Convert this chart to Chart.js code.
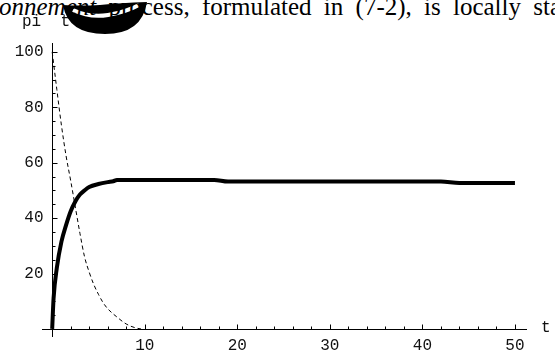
<!DOCTYPE html>
<html>
<head>
<meta charset="utf-8">
<script src="https://cdn.jsdelivr.net/npm/chart.js@4.4.0/dist/chart.umd.min.js"></script>
<style>
html, body { margin: 0; padding: 0; background: #fff; overflow: hidden; }
#wrap { position: relative; width: 555px; height: 358px; overflow: hidden; }
#cap {
    position: absolute; left: -1px; top: -6px; white-space: nowrap;
    font-family: "Liberation Serif", "Times New Roman", serif;
    font-size: 25px; line-height: 25px; word-spacing: 6px; color: #000;
}
#blob { position: absolute; left: 60px; top: 0; }
#chart { position: absolute; left: 0; top: 0; }
</style>
</head>
<body>
<div id="wrap">
    <svg id="blob" width="90" height="36" viewBox="0 0 90 36">
        <path d="M3 5 Q8 34 45 34 Q82 34 87 2 Q60 3 40 5 Q20 6 3 5 Z" fill="#000"/>
        <path d="M13 10 Q30 18 48 15 Q66 12 79 5" stroke="#fff" stroke-width="4" fill="none"/>
    </svg>
    <div id="cap"><i>onnement</i> process, formulated in (7-2), is locally stable</div>
    <canvas id="chart" width="555" height="358"></canvas>
</div>
<script>
// solid curve (thick)
const solidT = [0, 0.15, 0.5, 1, 1.5, 2, 2.5, 3, 3.5, 4, 5, 6, 6.6, 7, 17.5, 19, 42, 44, 50];
const solidV = [0, 11, 22, 31.5, 37.5, 42.5, 46, 48.5, 50, 51.2, 52.3, 53, 53.3, 53.8, 53.8, 53.2, 53.2, 52.7, 52.7];

// dashed curve
const dashT = [0, 0.5, 1, 1.5, 2, 2.5, 3, 3.5, 4, 4.5, 5, 5.5, 6, 7, 8, 9, 9.6];
const dashV = [100, 86.5, 73.5, 62.5, 53.5, 44, 34.5, 26, 20.5, 16, 12.5, 9.5, 7.3, 4.3, 1.8, 0.4, 0];

// tick labels
const xTicks = [10, 20, 30, 40, 50];
const yTicks = [20, 40, 60, 80, 100];
const xMinorStep = 2;
const yMinorStep = 5;

function toPoints(ts, vs) {
    return ts.map((t, i) => ({ x: t, y: vs[i] }));
}

// axes through the origin, mathematica style
const axesPlugin = {
    id: 'originAxes',
    afterDraw(chart) {
        const ctx = chart.ctx;
        const area = chart.chartArea;
        const xs = chart.scales.x, ys = chart.scales.y;
        const x0 = Math.round(xs.getPixelForValue(0)) + 0.5;
        const y0 = Math.round(ys.getPixelForValue(0)) + 0.5;

        ctx.save();
        ctx.strokeStyle = '#000';
        ctx.lineWidth = 1;
        ctx.beginPath();
        ctx.moveTo(area.left, y0); ctx.lineTo(area.right, y0);
        ctx.moveTo(x0, area.top); ctx.lineTo(x0, area.bottom);

        // x ticks
        for (let t = xMinorStep; t <= 50; t += xMinorStep) {
            const px = Math.round(xs.getPixelForValue(t)) + 0.5;
            const len = xTicks.includes(t) ? 5 : 3;
            ctx.moveTo(px, y0); ctx.lineTo(px, y0 - len);
        }
        // y ticks
        for (let v = yMinorStep; v <= 100; v += yMinorStep) {
            const py = Math.round(ys.getPixelForValue(v)) + 0.5;
            const len = yTicks.includes(v) ? 5 : 3;
            ctx.moveTo(x0, py); ctx.lineTo(x0 + len, py);
        }
        ctx.stroke();

        ctx.fillStyle = '#111';
        ctx.font = '16px "Liberation Mono", monospace';
        ctx.textAlign = 'center';
        ctx.textBaseline = 'middle';
        xTicks.forEach(t => ctx.fillText(String(t), xs.getPixelForValue(t), y0 + 16));
        ctx.textAlign = 'right';
        yTicks.forEach(v => ctx.fillText(String(v), x0 - 9, ys.getPixelForValue(v)));

        // axis names
        ctx.textAlign = 'left';
        ctx.fillText('t', 541, y0 - 2);
        ctx.fillText('pi  t', 22, 22);
        ctx.restore();
    }
};

new Chart(document.getElementById('chart').getContext('2d'), {
    type: 'line',
    data: {
        datasets: [{
            data: toPoints(solidT, solidV),
            borderColor: '#000',
            borderWidth: 4,
            pointRadius: 0,
            cubicInterpolationMode: 'monotone'
        }, {
            data: toPoints(dashT, dashV),
            borderColor: '#000',
            borderWidth: 1,
            borderDash: [4, 3],
            pointRadius: 0,
            cubicInterpolationMode: 'monotone'
        }]
    },
    options: {
        responsive: false,
        maintainAspectRatio: false,
        animation: false,
        layout: { padding: { left: 42, right: 28, top: 43, bottom: 21 } },
        plugins: { legend: { display: false }, tooltip: { enabled: false } },
        scales: {
            x: { type: 'linear', min: -1.1, max: 51.3, display: false },
            y: { type: 'linear', min: -2.9, max: 103.2, display: false }
        }
    },
    plugins: [axesPlugin]
});
</script>
</body>
</html>
